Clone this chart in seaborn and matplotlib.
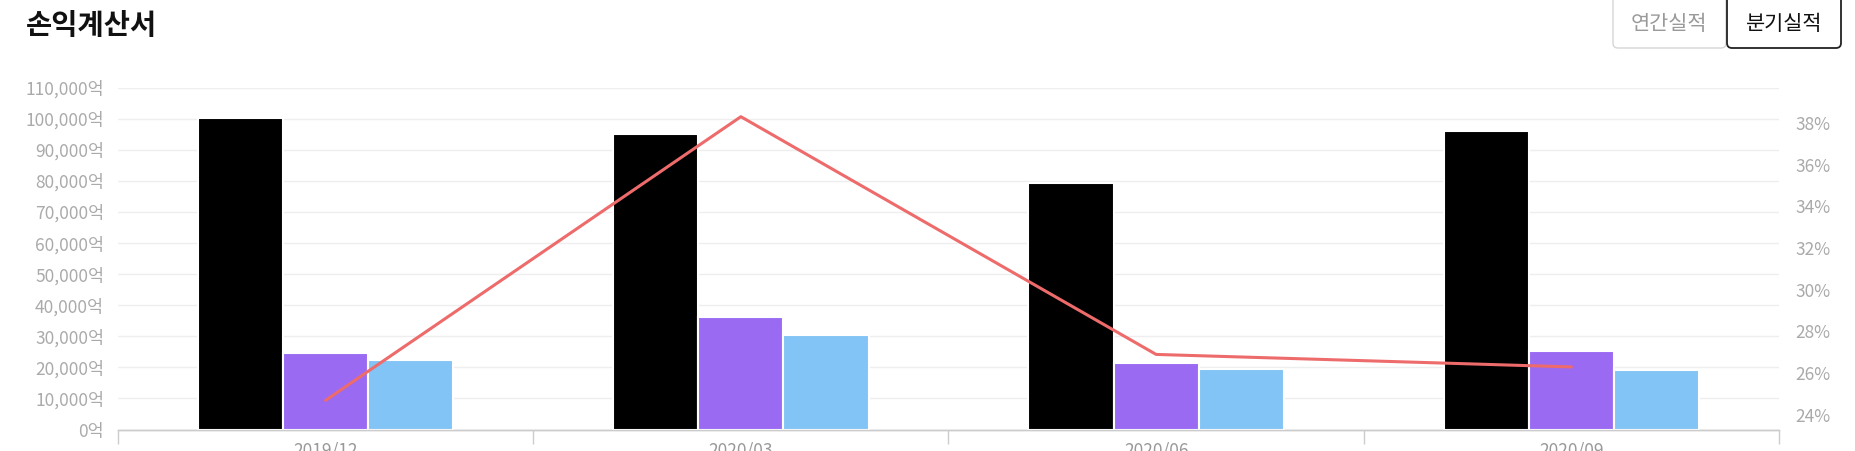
import numpy as np
import pandas as pd
import matplotlib
matplotlib.use("Agg")
import matplotlib.pyplot as plt
from matplotlib.patches import FancyBboxPatch
from matplotlib.transforms import IdentityTransform
import seaborn as sns

# data
quarters = ["2019/12", "2020/03", "2020/06", "2020/09"]
items = ["매출액", "매출총이익", "영업이익"]
revenue = [100100, 95200, 79200, 95900]
gross_profit = [24700, 36200, 21300, 25100]
operating_profit = [22500, 30500, 19400, 19000]
margin_pct = [24.7, 38.3, 26.9, 26.3]

left_ticks = list(range(0, 110001, 10000))
right_ticks = list(range(24, 39, 2))

bar_colors = ["#000000", "#9a6af3", "#82c4f5"]
line_color = "#ee6b6b"
tick_gray = "#aaaaaa"
grid_gray = "#eeeeee"
axis_gray = "#cccccc"

W, H, DPI = 1855, 451, 100

sns.set_theme(style="white")
plt.rcParams["font.family"] = ["Noto Sans CJK KR", "DejaVu Sans"]

df = pd.DataFrame({
    "quarter": np.repeat(quarters, len(items)),
    "item": items * len(quarters),
    "value": np.column_stack([revenue, gross_profit, operating_profit]).ravel(),
})

fig = plt.figure(figsize=(W / DPI, H / DPI), dpi=DPI)
ax = fig.add_axes([118 / W, 21.5 / H, (1779 - 118) / W, 342 / H])

sns.barplot(data=df, x="quarter", y="value", hue="item", palette=bar_colors,
            width=0.615, saturation=1, edgecolor="white", linewidth=1.5,
            legend=False, ax=ax, zorder=3)

ax2 = ax.twinx()
sns.lineplot(x=np.arange(len(quarters)), y=margin_pct, color=line_color,
             linewidth=2.2, ax=ax2, zorder=4)

ax.set_xlim(-0.5, len(quarters) - 0.5)
ax.set_ylim(0, 110000)
ax2.set_ylim(23.3, 39.7)

# left axis
ax.set_yticks(left_ticks)
ax.set_yticklabels([f"{v:,}억" for v in left_ticks])
ax.yaxis.grid(True, color=grid_gray, linewidth=1)
ax.set_axisbelow(True)
ax.tick_params(axis="y", length=0, pad=10, labelsize=12.5, labelcolor=tick_gray)

# x axis: labels at centres, tick marks on category borders
ax.set_xticks(np.arange(len(quarters)))
ax.set_xticklabels(quarters)
ax.set_xticks(np.arange(-0.5, len(quarters), 1), minor=True)
ax.tick_params(axis="x", which="major", length=0, pad=8.5, labelsize=12.5,
               labelcolor="#999999")
ax.tick_params(axis="x", which="minor", length=10, width=1, color=axis_gray,
               bottom=True, direction="out")
ax.set_xlabel("")
ax.set_ylabel("")

# right axis
ax2.set_yticks(right_ticks)
ax2.set_yticklabels([f"{v}%" for v in right_ticks])
ax2.tick_params(axis="y", length=0, pad=12, labelsize=12.5, labelcolor=tick_gray)
ax2.set_ylabel("")

for a in (ax, ax2):
    for side in ("left", "right", "top"):
        a.spines[side].set_visible(False)
    a.spines["bottom"].set_color(axis_gray)
    a.spines["bottom"].set_linewidth(1)

# title
fig.text(26 / W, 1 - 26 / H, "손익계산서", fontsize=20.5, fontweight="bold",
         color="#111111", va="center", ha="left")

# toggle buttons (pixel coords)
btn_y0 = H - 48
fig.patches.append(FancyBboxPatch((1613, btn_y0), 113, 60,
                                  boxstyle="round,pad=0,rounding_size=5",
                                  transform=IdentityTransform(), figure=fig,
                                  facecolor="white", edgecolor="#d6d6d6", linewidth=1))
fig.patches.append(FancyBboxPatch((1727, btn_y0), 114, 60,
                                  boxstyle="round,pad=0,rounding_size=5",
                                  transform=IdentityTransform(), figure=fig,
                                  facecolor="white", edgecolor="#222222", linewidth=1.3))
fig.text(1669 / W, 1 - 23.5 / H, "연간실적", fontsize=15, color="#9a9a9a",
         ha="center", va="center")
fig.text(1784 / W, 1 - 23.5 / H, "분기실적", fontsize=15, color="#111111",
         ha="center", va="center")

fig.savefig("out.png", dpi=DPI, facecolor="white")
